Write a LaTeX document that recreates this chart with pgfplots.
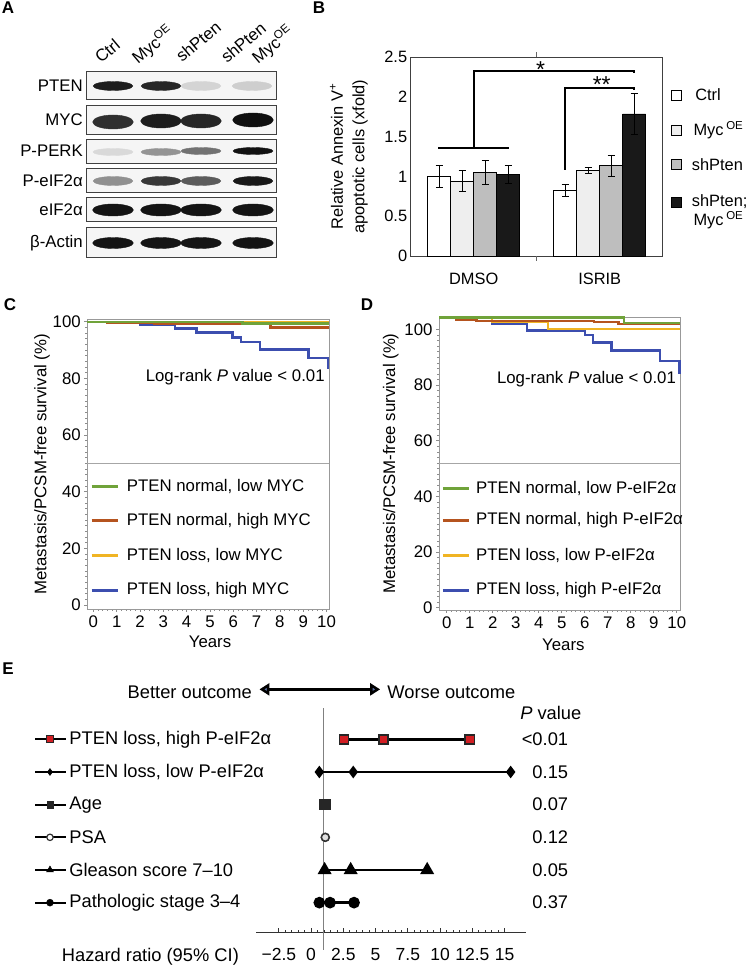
\documentclass[border=0pt]{standalone}
\usepackage{fontspec}
\setmainfont{Liberation Sans}
\usepackage{pgfplots}
\pgfplotsset{compat=1.18}
\usetikzlibrary{arrows.meta}
\definecolor{kmgreen}{RGB}{112,163,58}
\definecolor{kmbrown}{RGB}{181,84,31}
\definecolor{kmyellow}{RGB}{240,180,35}
\definecolor{kmblue}{RGB}{60,78,175}
\definecolor{barlight}{RGB}{238,238,238}
\definecolor{bargray}{RGB}{190,190,190}
\definecolor{barblack}{RGB}{25,25,25}
\definecolor{hrred}{RGB}{210,30,35}
\definecolor{headblue}{RGB}{90,110,160}
\newcommand\fA{\fontsize{16.8}{20}\selectfont}
\newcommand\fB{\fontsize{16.4}{21.5}\selectfont}
\newcommand\fC{\fontsize{16.8}{20}\selectfont}
\newcommand\fE{\fontsize{18.3}{22}\selectfont}
\newcommand\fT{\fontsize{17.5}{21}\selectfont}
\newcommand\fS{\fontsize{23}{24}\selectfont}
\newcommand\fL{\fontsize{17}{20}\selectfont\bfseries}
\pgfplotsset{
  kmaxis/.style={anchor=south west, scale only axis, clip=false,
    xtick={0,...,10}, ytick={0,20,...,100}, minor x tick num=4, minor y tick num=9,
    axis line style={black!40, line width=0.8pt}, tick style={black!45, line width=0.6pt},
    tick align=outside, major tick length=3pt, minor tick length=2pt,
    xtick pos=left, ytick pos=left,
    tick label style={font=\fC}, /pgf/number format/assume math mode=true,
    xlabel=Years, ylabel={Metastasis/PCSM-free survival (\%)},
    label style={font=\fC},
  },
  kmline/.style={line width=2.4pt, const plot, mark=none},
  bbar/.style={ybar, bar width=23pt, bar shift=0pt, draw=black, line width=0.9pt,
    error bars/y dir=both, error bars/y explicit,
    error bars/error bar style={line width=0.9pt, black},
    error bars/error mark options={rotate=90, mark size=3.5pt, line width=0.9pt, black}},
  blot/.style={scatter, only marks, mark=*, scatter src=explicit,
    scatter/use mapped color={draw=mapped color, fill=mapped color}},
}
\begin{document}
\begin{tikzpicture}
\tikzset{tx/.style={inner sep=0pt}}
% panel letters
\node[tx,font=\fL] at (8pt,959pt) {A};
\node[tx,font=\fL] at (319pt,959.5pt) {B};
\node[tx,font=\fL] at (10pt,662pt) {C};
\node[tx,font=\fL] at (367pt,662pt) {D};
\node[tx,font=\fL] at (8pt,298pt) {E};

% ================= Panel A (blot) =================
\begin{axis}[at={(87pt,709pt)}, anchor=south west, scale only axis, width=189pt, height=186pt,
  xmin=87, xmax=276, ymin=72, ymax=258, y dir=reverse, hide axis, clip=false,
  colormap={blot}{rgb255=(240,240,240) rgb255=(12,12,12)}, point meta min=0, point meta max=1]
\draw[draw=black!75, fill=black!4, line width=1pt] (axis cs:87,72) rectangle (axis cs:276,100);
\draw[draw=black!75, fill=black!4, line width=1pt] (axis cs:87,106) rectangle (axis cs:276,135);
\draw[draw=black!75, fill=black!4, line width=1pt] (axis cs:87,140) rectangle (axis cs:276,164);
\draw[draw=black!75, fill=black!4, line width=1pt] (axis cs:87,169) rectangle (axis cs:276,193);
\draw[draw=black!75, fill=black!4, line width=1pt] (axis cs:87,198) rectangle (axis cs:276,222);
\draw[draw=black!75, fill=black!4, line width=1pt] (axis cs:87,228) rectangle (axis cs:276,258);
% PTEN
\addplot[blot, mark size=4.5pt, mark options={xscale=4.4}] table[meta=m] {
x y m
113 86 0.92
161 86 0.88
201 86 0.12
252 86 0.15
};
% MYC
\addplot[blot, mark size=7pt, mark options={xscale=2.9}] table[meta=m] {
x y m
113 122 0.84
161 121 0.92
201 121 0.88
253 120 0.98
};
% P-PERK
\addplot[blot, mark size=3.5pt, mark options={xscale=5.7}] table[meta=m] {
x y m
113 152 0.10
161 152 0.40
201 151 0.55
253 151 0.97
};
% P-eIF2a
\addplot[blot, mark size=4.5pt, mark options={xscale=4.4}] table[meta=m] {
x y m
113 181 0.42
161 181 0.80
201 181 0.65
253 181 0.94
};
% eIF2a
\addplot[blot, mark size=6pt, mark options={xscale=3.4}] table[meta=m] {
x y m
113 210 0.96
161 210 0.96
201 210 0.96
253 210 0.96
};
% beta-Actin
\addplot[blot, mark size=5.5pt, mark options={xscale=3.7}] table[meta=m] {
x y m
113 243 0.96
161 243 0.96
201 243 0.96
253 243 0.96
};
\node[tx,anchor=east,font=\fA] at (axis cs:83,86) {PTEN};
\node[tx,anchor=east,font=\fA] at (axis cs:83,120) {MYC};
\node[tx,anchor=east,font=\fA] at (axis cs:83,151) {P-PERK};
\node[tx,anchor=east,font=\fA] at (axis cs:83,181) {P-eIF2α};
\node[tx,anchor=east,font=\fA] at (axis cs:83,210) {eIF2α};
\node[tx,anchor=east,font=\fA] at (axis cs:83,243) {β-Actin};
\node[tx,rotate=40,anchor=base west,font=\fA] at (axis cs:101,64) {Ctrl};
\node[tx,rotate=40,anchor=base west,font=\fA] at (axis cs:138,65) {Myc\textsuperscript{OE}};
\node[tx,rotate=40,anchor=base west,font=\fA] at (axis cs:182,63) {shPten};
\node[tx,rotate=40,anchor=base west,font=\fA] at (axis cs:227,64) {shPten};
\node[tx,rotate=40,anchor=base west,font=\fA] at (axis cs:258,65) {Myc\textsuperscript{OE}};
\end{axis}

% ================= Panel B (bars) =================
\begin{axis}[at={(410.7pt,711pt)}, anchor=south west, scale only axis, width=252pt, height=198.7pt,
  xmin=-0.5, xmax=1.5, ymin=0, ymax=2.5, clip=false,
  ytick={0,0.5,1,1.5,2,2.5}, xtick={0,1}, xticklabels={DMSO,ISRIB},
  extra x ticks={0.5}, extra x tick labels={},
  extra tick style={major tick length=5pt, tick align=outside, tick style={black!60, line width=0.8pt}},
  major tick length=0pt, axis line style={black!75, line width=0.9pt},
  tick label style={font=\fB}, /pgf/number format/assume math mode=true,
  xticklabel style={yshift=-14pt},
  ylabel={Relative Annexin V\textsuperscript{+}\\apoptotic cells (xfold)},
  ylabel style={align=center, font=\fB, at={(axis description cs:-0.245,0.5)}, anchor=center}]
% Ctrl
\addplot[bbar, fill=white] coordinates {(-0.274,1.00) +- (0,0.14) (0.726,0.826) +- (0,0.077)};
% Myc OE
\addplot[bbar, fill=barlight] coordinates {(-0.0913,0.944) +- (0,0.13) (0.9087,1.074) +- (0,0.035)};
% shPten
\addplot[bbar, fill=bargray] coordinates {(0.0913,1.049) +- (0,0.15) (1.0913,1.137) +- (0,0.134)};
% shPten; Myc OE
\addplot[bbar, fill=barblack] coordinates {(0.274,1.028) +- (0,0.11) (1.274,1.787) +- (0,0.256)};
% significance brackets
\addplot[black, line width=1.8pt, mark=none] coordinates {(0,1.375) (0,2.327) (1.274,2.327) (1.274,2.30)};
\addplot[black, line width=1.8pt, mark=none] coordinates {(-0.28,1.362) (0.282,1.362)};
\addplot[black, line width=1.8pt, mark=none] coordinates {(0.726,1.082) (0.726,2.117) (1.274,2.117) (1.274,2.09)};
\node[tx,font=\fS] at (axis cs:0.53,2.35) {*};
\node[tx,font=\fS] at (axis cs:1.016,2.16) {**};
% legend
\addplot[only marks, mark=square*, mark size=5pt, mark options={fill=white, draw=black, line width=1pt}] coordinates {(1.611,2.025)};
\addplot[only marks, mark=square*, mark size=5pt, mark options={fill=barlight, draw=black, line width=1pt}] coordinates {(1.611,1.585)};
\addplot[only marks, mark=square*, mark size=5pt, mark options={fill=bargray, draw=black, line width=1pt}] coordinates {(1.611,1.145)};
\addplot[only marks, mark=square*, mark size=5pt, mark options={fill=barblack, draw=black, line width=1pt}] coordinates {(1.611,0.679)};
\node[tx,anchor=west,font=\fB] at (axis cs:1.757,2.025) {Ctrl};
\node[tx,anchor=west,font=\fB] at (axis cs:1.743,1.585) {Myc\,\textsuperscript{OE}};
\node[tx,anchor=west,font=\fB] at (axis cs:1.73,1.145) {shPten};
\node[tx,anchor=west,font=\fB] at (axis cs:1.73,0.679) {shPten;};
\node[tx,anchor=west,font=\fB] at (axis cs:1.743,0.453) {Myc\,\textsuperscript{OE}};
\end{axis}

% ================= Panel C =================
\begin{axis}[kmaxis, at={(87.3pt,358pt)}, width=242pt, height=289.5pt,
  xmin=-0.26, xmax=10.12, ymin=-1.4, ymax=100.8,
  xlabel style={at={(axis description cs:0.507,-0.113)}, anchor=center},
  ylabel style={at={(axis description cs:-0.187,0.5)}, anchor=center}]
\draw[black!35, line width=0.8pt] (axis cs:-0.26,50) -- (axis cs:10.12,50);
\addplot[kmblue, kmline] coordinates {(-0.26,100) (2.0,98.8) (3.5,97.6) (4.43,96.2) (5.97,94.5) (6.32,92.8) (7.14,90.2) (9.22,87.3) (10.07,83.5)};
\addplot[kmbrown, kmline] coordinates {(-0.26,100) (0.6,99.6) (2.6,99.4) (7.6,98.0) (10.12,98.0)};
\addplot[kmyellow, kmline] coordinates {(-0.26,100) (10.12,100)};
\addplot[kmgreen, kmline] coordinates {(-0.26,100) (6.4,99.4) (10.12,99.4)};
\node[tx,anchor=east,font=\fC] at (axis cs:9.93,80.4) {Log-rank \textit{P} value < 0.01};
\addplot[kmgreen, line width=3pt] coordinates {(-0.07,41.76) (1.07,41.76)};
\addplot[kmbrown, line width=3pt] coordinates {(-0.07,29.76) (1.07,29.76)};
\addplot[kmyellow, line width=3pt] coordinates {(-0.07,17.65) (1.07,17.65)};
\addplot[kmblue, line width=3pt] coordinates {(-0.07,5.29) (1.07,5.29)};
\node[tx,anchor=west,font=\fC] at (axis cs:1.43,41.76) {PTEN normal, low MYC};
\node[tx,anchor=west,font=\fC] at (axis cs:1.43,29.76) {PTEN normal, high MYC};
\node[tx,anchor=west,font=\fC] at (axis cs:1.43,17.65) {PTEN loss, low MYC};
\node[tx,anchor=west,font=\fC] at (axis cs:1.43,5.29) {PTEN loss, high MYC};
\end{axis}

% ================= Panel D =================
\begin{axis}[kmaxis, at={(439pt,357pt)}, width=241pt, height=292.7pt,
  xmin=-0.335, xmax=10.14, ymin=-0.86, ymax=104.4,
  xlabel style={at={(axis description cs:0.516,-0.12)}, anchor=center},
  ylabel style={at={(axis description cs:-0.2,0.5)}, anchor=center}]
\draw[black!35, line width=0.8pt] (axis cs:-0.335,51.9) -- (axis cs:10.14,51.9);
\addplot[kmblue, kmline] coordinates {(-0.335,104.3) (1.96,102.2) (3.48,99.7) (6.01,98.1) (6.35,95.3) (7.17,92.4) (9.27,88.7) (10.12,83.9)};
\addplot[kmyellow, kmline] coordinates {(-0.335,104.3) (1.96,102.9) (4.4,100.2) (10.14,100.2)};
\addplot[kmbrown, kmline] coordinates {(-0.335,104.3) (0.43,103.5) (1.3,103.0) (6.4,102.6) (7.47,102.0) (10.14,102.0)};
\addplot[kmgreen, kmline] coordinates {(-0.335,104.3) (7.71,102.3) (10.14,102.3)};
\node[tx,anchor=east,font=\fC] at (axis cs:9.97,82.1) {Log-rank \textit{P} value < 0.01};
\addplot[kmgreen, line width=3pt] coordinates {(-0.17,42.9) (0.98,42.9)};
\addplot[kmbrown, line width=3pt] coordinates {(-0.17,31.5) (0.98,31.5)};
\addplot[kmyellow, line width=3pt] coordinates {(-0.17,18.9) (0.98,18.9)};
\addplot[kmblue, line width=3pt] coordinates {(-0.17,6.3) (0.98,6.3)};
\node[tx,anchor=west,font=\fC] at (axis cs:1.27,42.9) {PTEN normal, low P-eIF2α};
\node[tx,anchor=west,font=\fC] at (axis cs:1.27,31.5) {PTEN normal, high P-eIF2α};
\node[tx,anchor=west,font=\fC] at (axis cs:1.27,18.9) {PTEN loss, low P-eIF2α};
\node[tx,anchor=west,font=\fC] at (axis cs:1.27,6.3) {PTEN loss, high P-eIF2α};
\end{axis}

% ================= Panel E (forest) =================
\begin{axis}[at={(256pt,34.3pt)}, anchor=south west, scale only axis, width=270pt, height=224.4pt,
  xmin=-4.27, xmax=16.66, ymin=-6.92, ymax=-0.05, clip=false,
  axis x line=bottom, axis y line=none, axis line style={-, black!80, line width=0.9pt},
  xtick={-2.5,0,2.5,5,7.5,10,12.5,15}, xticklabels={−2.5,0,2.5,5,7.5,10,12.5,15},
  minor x tick num=4, tick align=inside, major tick length=5pt, minor tick length=3pt,
  tick style={black!80, line width=0.7pt},
  xticklabel style={font=\fT, yshift=-12pt}]
\addplot[black!50, line width=1pt, mark=none] coordinates {(1,-0.05) (1,-7.45)};
% CIs
\addplot[black, line width=2.6pt, mark=square*, mark size=4.6pt, mark options={solid, fill=hrred, draw=black!85, line width=1.6pt}]
  coordinates {(2.55,-1) (5.6,-1) (12.3,-1)};
\addplot[black, line width=2.6pt, mark=diamond*, mark size=4.2pt, mark options={solid, fill=black, draw=black}]
  coordinates {(0.64,-2) (3.27,-2) (15.47,-2)};
\addplot[black, line width=2.6pt, mark=square*, mark size=4.5pt, mark options={solid, fill=black!85, draw=black!85}]
  coordinates {(1.1,-3)};
\addplot[black, line width=2.6pt, mark=*, mark size=4pt, mark options={solid, fill=black!12, draw=black!80, line width=1.6pt}]
  coordinates {(1.1,-4)};
\addplot[black, line width=2.6pt, mark=triangle*, mark size=5.5pt, mark options={solid, fill=black, draw=black}]
  coordinates {(1.05,-5) (3.07,-5) (9.0,-5)};
\addplot[black, line width=2.6pt, mark=*, mark size=4.5pt, mark options={solid, fill=black, draw=black}]
  coordinates {(0.64,-6) (1.47,-6) (3.33,-6)};
% row keys
\addplot[black, line width=2pt, mark=none] coordinates {(-21.4,-1) (-19.0,-1)};
\addplot[black, line width=2pt, mark=none] coordinates {(-21.4,-2) (-19.0,-2)};
\addplot[black, line width=2pt, mark=none] coordinates {(-21.4,-3) (-19.0,-3)};
\addplot[black, line width=2pt, mark=none] coordinates {(-21.4,-4) (-19.0,-4)};
\addplot[black, line width=2pt, mark=none] coordinates {(-21.4,-5) (-19.0,-5)};
\addplot[black, line width=2pt, mark=none] coordinates {(-21.4,-6) (-19.0,-6)};
\addplot[only marks, mark=square*, mark size=3.5pt, mark options={fill=hrred, draw=black!85, line width=1.2pt}] coordinates {(-20.24,-1)};
\addplot[only marks, mark=diamond*, mark size=3.5pt, mark options={fill=black, draw=black}] coordinates {(-20.24,-2)};
\addplot[only marks, mark=square*, mark size=3.2pt, mark options={fill=black!85, draw=black!85}] coordinates {(-20.24,-3)};
\addplot[only marks, mark=*, mark size=3.2pt, mark options={fill=white, draw=black!80, line width=1.2pt}] coordinates {(-20.24,-4)};
\addplot[only marks, mark=triangle*, mark size=4pt, mark options={fill=black, draw=black}] coordinates {(-20.24,-5)};
\addplot[only marks, mark=*, mark size=3.5pt, mark options={fill=black, draw=black}] coordinates {(-20.24,-6)};
\node[tx,anchor=west,font=\fE] at (axis cs:-18.75,-1) {PTEN loss, high P-eIF2α};
\node[tx,anchor=west,font=\fE] at (axis cs:-18.75,-2) {PTEN loss, low P-eIF2α};
\node[tx,anchor=west,font=\fE] at (axis cs:-18.75,-3) {Age};
\node[tx,anchor=west,font=\fE] at (axis cs:-18.75,-4) {PSA};
\node[tx,anchor=west,font=\fE] at (axis cs:-18.75,-5) {Gleason score 7–10};
\node[tx,anchor=west,font=\fE] at (axis cs:-18.75,-6) {Pathologic stage 3–4};
% p values
\node[tx,font=\fE] at (axis cs:18.58,-0.2) {\textit{P} value};
\node[tx,anchor=east,font=\fE] at (axis cs:19.94,-1) {<0.01};
\node[tx,anchor=east,font=\fE] at (axis cs:19.94,-2) {0.15};
\node[tx,anchor=east,font=\fE] at (axis cs:19.94,-3) {0.07};
\node[tx,anchor=east,font=\fE] at (axis cs:19.94,-4) {0.12};
\node[tx,anchor=east,font=\fE] at (axis cs:19.94,-5) {0.05};
\node[tx,anchor=east,font=\fE] at (axis cs:19.94,-6) {0.37};
% outcome arrow
\draw[line width=2.6pt, {Triangle[length=10pt,width=12pt,fill=headblue]}-{Triangle[length=10pt,width=12pt,fill=headblue]}]
  (axis cs:-4.0,0.53) -- (axis cs:5.35,0.53);
\node[tx,anchor=east,font=\fE] at (axis cs:-4.58,0.455) {Better outcome};
\node[tx,anchor=west,font=\fE] at (axis cs:5.9,0.455) {Worse outcome};
\node[tx,anchor=west,font=\fE] at (axis cs:-19.33,-7.65) {Hazard ratio (95\% CI)};
\end{axis}
\pgfresetboundingbox
\path[use as bounding box] (0pt,0pt) rectangle (749pt,967pt);
\end{tikzpicture}
\end{document}
